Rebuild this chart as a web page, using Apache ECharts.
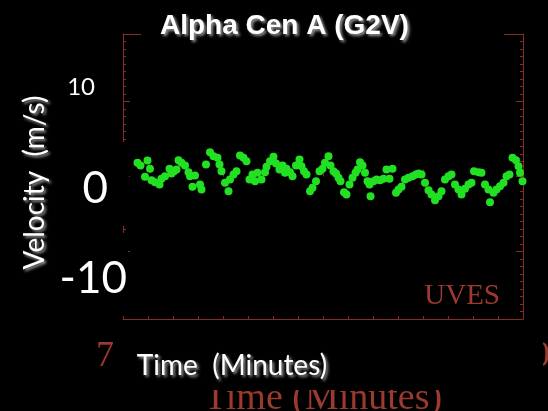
<!DOCTYPE html>
<html>
<head>
<meta charset="utf-8">
<script src="https://cdn.jsdelivr.net/npm/echarts@6/dist/echarts.min.js"></script>
<style>
  html, body { margin: 0; padding: 0; background: #000; }
  #chart { width: 548px; height: 411px; }
</style>
</head>
<body>
<div id="chart"></div>
<script>
// Radial-velocity time series (minutes, m/s)
const timeMin = [
  702.9, 703.5, 704.9, 705.4, 704.4, 705.7, 706.4, 707.3, 707.7, 708.4,
  709.3, 709.7, 710.2, 710.7, 711.1, 711.7, 712.4, 713.1, 713.4, 714.4,
  713.9, 715.4, 715.7, 716.6, 717.4, 718.1, 718.9, 719.3, 719.7, 720.4,
  721.1, 721.4, 722.1, 722.7, 723.4, 724.1, 724.7, 725.3, 725.9, 726.4,
  726.9, 727.7, 728.4, 728.7, 729.4, 730.1, 730.6, 731.3, 731.9, 732.4,
  732.7, 733.4, 733.9, 734.6, 735.3, 735.7, 736.2, 736.7, 737.4, 737.9,
  738.6, 739.3, 739.9, 740.4, 741.1, 741.5, 742.1, 742.6, 743.1, 743.5,
  744.2, 744.7, 745.3, 745.9, 746.5, 746.9, 747.4, 747.9, 748.4, 748.9,
  749.3, 749.5, 750.1, 750.7, 751.4, 752.1, 752.7, 753.3, 753.9, 754.6,
  755.1, 755.7, 756.4, 757.1, 757.9, 758.6, 759.1, 759.7, 760.4, 761.1,
  761.7, 762.4, 763.1, 763.7, 764.4, 765.1, 765.7, 766.4, 767.1, 767.7,
  768.4, 769.1, 769.7, 770.2, 771.1, 771.7, 772.4, 773.1, 773.4, 774.1,
  774.7, 775.4, 776.1, 776.7, 777.3, 777.9, 778.6, 779.1, 779.4, 779.9
];
const velocity = [
  1.82, 1.47, 2.13, 1.02, -0.04, -0.49, -0.76, -1.07, -0.31, 0.04,
  1.02, 0.40, 0.71, 0.93, 2.18, 1.82, 1.47, 0.58, 0.04, 0.13,
  -1.38, -1.07, -1.73, 1.60, 3.24, 2.71, 2.49, 1.60, 0.71, -0.84,
  -1.96, -0.40, 0.27, 0.71, 2.80, 2.49, 2.04, -0.40, 0.27, -0.62,
  0.49, -0.40, 0.58, 1.29, 2.04, 2.62, 1.73, 0.93, 1.47, 0.49,
  1.02, 0.58, 0.04, 1.47, 2.27, 1.38, 0.71, 0.27, -1.96, -1.51,
  -0.62, 0.71, 1.02, 1.82, 2.71, 1.47, 0.71, 0.40, -0.18, -0.62,
  -2.09, -2.40, -1.07, -0.18, 0.49, 0.93, 1.91, 1.47, 0.49, -0.62,
  -1.07, -2.62, -0.62, -0.40, -0.49, -0.31, 0.93, -0.31, 1.02, -2.18,
  -1.73, -1.38, -0.40, -0.18, 0.04, 0.27, 0.40, 0.27, -0.84, -1.82,
  -2.40, -3.16, -2.62, -1.96, -0.40, 0.04, 0.27, -1.07, -1.73, -2.40,
  -1.64, -1.07, -0.84, 0.71, 0.58, 0.49, -1.07, -1.73, -3.42, -2.18,
  -1.73, -1.29, -0.84, 0.04, 0.27, 2.49, 2.18, 1.38, 0.49, -0.62
];

// Tick labels
const timeTicks = [700, 720, 740, 760, 780];
const velTicks = [-10, 0, 10];
const overlayVelTicks = [-10, 0, 10];

const RED = '#8a2c26';
const RED_TEXT = '#9c3a2f';
const GREEN = '#22e022';
const WHITE_FONT = 'Lato';
const SERIF = 'Liberation Serif';

const points = timeMin.map((t, i) => [t, velocity[i]]);

const shadow = {
  textShadowColor: 'rgba(170,170,170,0.9)',
  textShadowBlur: 3,
  textShadowOffsetX: 2,
  textShadowOffsetY: 2
};

const chart = echarts.init(document.getElementById('chart'), null, { renderer: 'canvas' });

chart.setOption({
  backgroundColor: '#000',
  animation: false,
  title: {
    text: 'Alpha Cen A (G2V)',
    left: 155,
    top: 7,
    zlevel: 2,
    textStyle: Object.assign({
      color: '#fff',
      fontFamily: 'Liberation Sans',
      fontWeight: 'bold',
      fontSize: 28
    }, shadow)
  },
  grid: { left: 123, top: 34, width: 400, height: 285, containLabel: false, outerBoundsMode: 'none' },
  xAxis: [
    {
      type: 'value', position: 'bottom', min: 700, max: 780, interval: 5,
      axisLine: { show: true, onZero: false, lineStyle: { color: RED, width: 1 } },
      axisTick: { show: true, inside: true, length: 3, lineStyle: { color: RED } },
      axisLabel: {
        show: true, customValues: timeTicks, color: RED_TEXT,
        fontFamily: SERIF, fontSize: 36, margin: 20
      },
      splitLine: { show: false },
      name: 'Time (Minutes)', nameLocation: 'middle', nameGap: 57,
      nameTextStyle: { color: RED_TEXT, fontFamily: SERIF, fontSize: 38 }
    },
    {
      type: 'value', position: 'bottom', min: 700, max: 780, zlevel: 2,
      axisLine: { show: false },
      axisTick: { show: false },
      axisLabel: { show: false },
      splitLine: { show: false },
      name: 'Time  (Minutes)', nameLocation: 'middle', nameGap: 33,
      nameTextStyle: Object.assign({
        color: '#fff', fontFamily: WHITE_FONT, fontSize: 28,
        padding: [0, 182, 0, 0]
      }, shadow)
    },
    {
      type: 'value', position: 'bottom', min: 700, max: 780,
      axisLine: { show: false },
      axisTick: { show: true, inside: true, length: 7, customValues: timeTicks, lineStyle: { color: RED } },
      axisLabel: { show: false },
      splitLine: { show: false }
    },
    {
      type: 'value', position: 'top', min: 700, max: 780,
      axisLine: { show: true, onZero: false, lineStyle: { color: RED, width: 1 } },
      axisTick: { show: false },
      axisLabel: { show: false },
      splitLine: { show: false }
    }
  ],
  yAxis: [
    {
      type: 'value', position: 'left', min: -19, max: 19, interval: 1,
      axisLine: { show: true, onZero: false, lineStyle: { color: RED, width: 1 } },
      axisTick: { show: true, inside: true, length: 3, lineStyle: { color: RED } },
      axisLabel: {
        show: true, customValues: velTicks, color: RED_TEXT,
        fontFamily: SERIF, fontSize: 36, margin: 15
      },
      splitLine: { show: false }
    },
    {
      type: 'value', position: 'left', min: -19, max: 19,
      axisLine: { show: false },
      axisTick: { show: true, inside: true, length: 7, customValues: velTicks, lineStyle: { color: RED } },
      axisLabel: { show: false },
      splitLine: { show: false }
    },
    {
      type: 'value', position: 'right', min: -19, max: 19, interval: 1,
      axisLine: { show: true, onZero: false, lineStyle: { color: RED, width: 1 } },
      axisTick: { show: true, inside: true, length: 3, lineStyle: { color: RED } },
      axisLabel: { show: false },
      splitLine: { show: false }
    },
    {
      type: 'value', position: 'right', min: -19, max: 19,
      axisLine: { show: false },
      axisTick: { show: true, inside: true, length: 7, customValues: velTicks, lineStyle: { color: RED } },
      axisLabel: { show: false },
      splitLine: { show: false }
    },
    {
      // white velocity scale drawn over the plot frame
      type: 'value', position: 'left', min: -13.85, max: 15.83, zlevel: 2,
      axisLine: { show: false },
      axisTick: { show: false },
      splitLine: { show: false },
      axisLabel: {
        show: true, customValues: overlayVelTicks, margin: -4, align: 'right',
        formatter: v => v === 10 ? '{s|' + v + '}' : (v === 0 ? '{m|' + v + '}' : '{l|' + v + '}'),
        rich: {
          s: { color: '#fff', fontFamily: WHITE_FONT, fontSize: 24, padding: [0, 32, 6, 0] },
          m: { color: '#fff', fontFamily: WHITE_FONT, fontSize: 44, padding: [6, 19, 0, 0] },
          l: { color: '#fff', fontFamily: WHITE_FONT, fontSize: 44, padding: [0, 0, 6, 0] }
        }
      },
      name: 'Velocity  (m/s)', nameLocation: 'middle', nameGap: 70, nameRotate: 90,
      nameTextStyle: Object.assign({
        color: '#fff', fontFamily: WHITE_FONT, fontSize: 28,
        padding: [0, 12, 0, 0]
      }, shadow)
    }
  ],
  graphic: [
    // dark patches behind the white annotations
    { type: 'rect', zlevel: 1, shape: { x: 141, y: 2, width: 363, height: 40 }, style: { fill: '#000' } },
    { type: 'rect', zlevel: 1, shape: { x: 55, y: 66, width: 66, height: 45 }, style: { fill: '#000' } },
    { type: 'rect', zlevel: 1, shape: { x: 55, y: 142, width: 74, height: 84 }, style: { fill: '#000' } },
    { type: 'rect', zlevel: 1, shape: { x: 45, y: 233, width: 83, height: 83 }, style: { fill: '#000' } },
    { type: 'rect', zlevel: 1, shape: { x: 115, y: 333, width: 428, height: 57 }, style: { fill: '#000' } },
    {
      type: 'text', zlevel: 1, right: 48, top: 282,
      style: { text: 'UVES', fill: RED_TEXT, font: '29px "Liberation Serif"' }
    }
  ],
  series: [
    {
      type: 'scatter', xAxisIndex: 0, yAxisIndex: 0, z: 3,
      symbol: 'circle', symbolSize: 8,
      itemStyle: { color: GREEN, opacity: 1 },
      data: points
    }
  ]
});
</script>
</body>
</html>
